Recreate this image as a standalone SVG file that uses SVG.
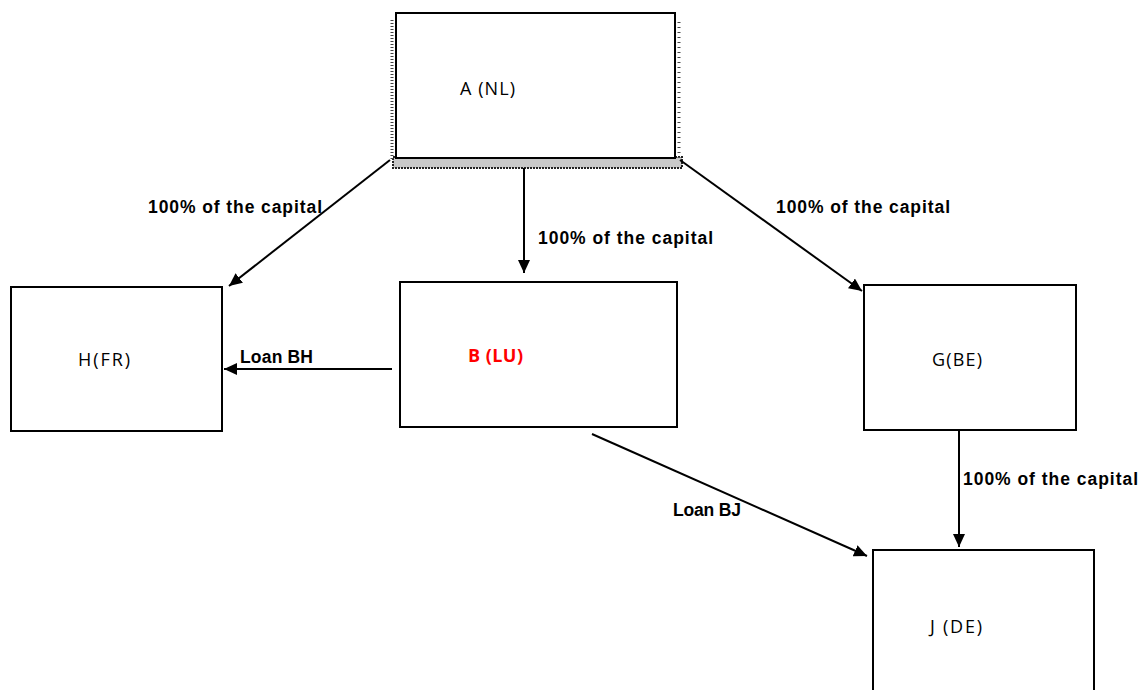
<svg xmlns="http://www.w3.org/2000/svg" width="1143" height="690" viewBox="0 0 1143 690">
<defs>
<marker id="ah" viewBox="0 0 13 12" refX="13" refY="6" markerWidth="13" markerHeight="12" markerUnits="userSpaceOnUse" orient="auto">
<path d="M0,0 L13,6 L0,12 z" fill="#000"/>
</marker>
</defs>
<style>
.box{fill:#fff;stroke:#000;stroke-width:2}
.nt{font-family:"Open Sans","Liberation Sans",sans-serif;font-size:18px;fill:#000}
.lbl{font-family:"Liberation Sans",sans-serif;font-size:17.5px;font-weight:bold;fill:#000}
.conn line{stroke:#000;stroke-width:2;marker-end:url(#ah)}
</style>
<rect width="1143" height="690" fill="#fff"/>
<g id="node-A">
<rect x="393" y="157" width="289" height="11" fill="#c8c8c8" stroke="#222" stroke-width="2" stroke-dasharray="2 1"/>
<line x1="392" y1="20" x2="392" y2="160" stroke="#444" stroke-width="3" stroke-dasharray="1 2"/>
<line x1="679" y1="22" x2="679" y2="160" stroke="#444" stroke-width="3" stroke-dasharray="1 4"/>
<rect class="box" x="396" y="13" width="279" height="145"/>
<text class="nt" x="460" y="95" textLength="55">A (NL)</text>
</g>
<g id="node-H">
<rect class="box" x="11" y="287" width="211" height="144"/>
<text class="nt" x="78" y="366" textLength="52">H(FR)</text>
</g>
<g id="node-B">
<rect class="box" x="400" y="282" width="277" height="145"/>
<text class="nt" x="468" y="362" textLength="55" style="fill:#ff0000;font-weight:bold">B (LU)</text>
</g>
<g id="node-G">
<rect class="box" x="864" y="285" width="212" height="145"/>
<text class="nt" x="932" y="366" textLength="50">G(BE)</text>
</g>
<g id="node-J">
<rect class="box" x="873" y="550" width="221" height="150"/>
<text class="nt" x="930" y="633" textLength="52">J (DE)</text>
</g>
<g id="connectors" class="conn">
<line x1="390" y1="160" x2="229" y2="286"/>
<line x1="524" y1="168" x2="524" y2="273"/>
<line x1="680" y1="160" x2="862" y2="291"/>
<line x1="392" y1="369" x2="224" y2="369"/>
<line x1="592" y1="434" x2="867" y2="556"/>
<line x1="959" y1="431" x2="959" y2="547"/>
</g>
<g id="labels">
<text class="lbl" x="148" y="213" textLength="174">100% of the capital</text>
<text class="lbl" x="538" y="244" textLength="175">100% of the capital</text>
<text class="lbl" x="776" y="213" textLength="174">100% of the capital</text>
<text class="lbl" x="963" y="485" textLength="175">100% of the capital</text>
<text class="lbl" x="240" y="363" textLength="73">Loan BH</text>
<text class="lbl" x="673" y="516" textLength="68">Loan BJ</text>
</g>
</svg>
